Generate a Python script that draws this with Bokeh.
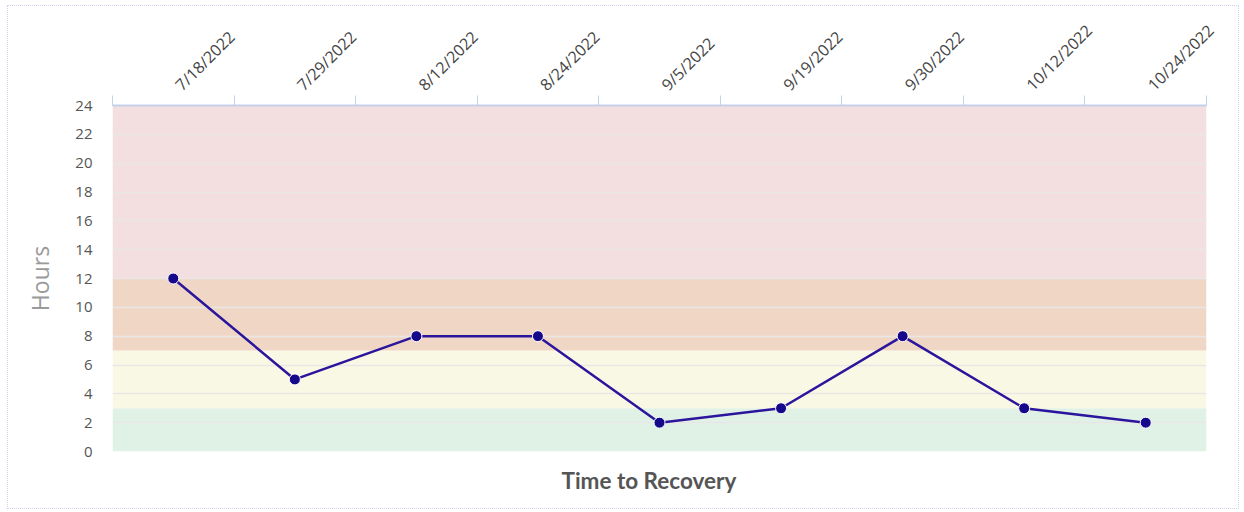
import math
from bokeh.plotting import figure
from bokeh.models import Range1d, FixedTicker, Title, ColumnDataSource
from bokeh.embed import file_html
from bokeh.resources import INLINE

dates = ["7/18/2022", "7/29/2022", "8/12/2022", "8/24/2022", "9/5/2022",
         "9/19/2022", "9/30/2022", "10/12/2022", "10/24/2022"]
hours = [12, 5, 8, 8, 2, 3, 8, 3, 2]

band_bottoms = [0, 3, 7, 12]
band_tops = [3, 7, 12, 24]
band_colors = ["#e0f1e6", "#f9f8e5", "#f0d7c5", "#f3dfdf"]

xs = [i + 0.5 for i in range(len(dates))]
label_shift = 0.04
label_pos = [x + label_shift for x in xs]

p = figure(width=1232, height=504, output_backend="svg", toolbar_location=None,
           x_range=Range1d(0, len(dates)), y_range=Range1d(0, 24),
           x_axis_location="above",
           min_border_left=104, min_border_right=34, min_border_top=99, min_border_bottom=59)
p.outline_line_color = None
p.styles = {"border": "1px dotted #cdd5ee", "margin-left": "7px", "margin-top": "5px"}

p.quad(left=0, right=len(dates), bottom=band_bottoms, top=band_tops,
       fill_color=band_colors, line_color=None, level="image")

src = ColumnDataSource(dict(x=xs, y=hours))
p.line("x", "y", source=src, line_color="#2a159c", line_width=2.5)
p.scatter("x", "y", source=src, size=11, fill_color="#16088a", line_color="white", line_width=1)

# x axis (top)
xa = p.xaxis[0]
xa.ticker = FixedTicker(ticks=label_pos, minor_ticks=list(range(len(dates) + 1)))
xa.major_label_overrides = {x: d for x, d in zip(label_pos, dates)}
xa.major_label_orientation = math.pi / 4
xa.major_tick_line_color = None
xa.major_tick_out = 0
xa.major_tick_in = 0
xa.minor_tick_line_color = "#c5d0ea"
xa.minor_tick_in = 0
xa.minor_tick_out = 10
xa.axis_line_color = "#c5d0ea"
xa.axis_line_width = 2
xa.major_label_text_font = "Open Sans"
xa.major_label_text_font_size = "16px"
xa.major_label_text_color = "#444444"
xa.major_label_standoff = 8

# y axis
ya = p.yaxis[0]
ya.ticker = FixedTicker(ticks=list(range(0, 25, 2)))
ya.axis_line_color = None
ya.major_tick_line_color = None
ya.major_tick_out = 0
ya.major_tick_in = 0
ya.minor_tick_line_color = None
ya.major_label_text_font = "Open Sans"
ya.major_label_text_font_size = "15px"
ya.major_label_text_color = "#555555"
ya.major_label_standoff = 20
ya.axis_label = "Hours"
ya.axis_label_text_font = "Open Sans"
ya.axis_label_text_font_style = "normal"
ya.axis_label_text_font_size = "23px"
ya.axis_label_text_color = "#9a9a9a"
ya.axis_label_standoff = 16

p.xgrid.grid_line_color = None
p.ygrid.grid_line_color = "#e9e6e6"
p.ygrid.grid_line_width = 1.5

p.add_layout(Title(text="Time to Recovery", align="left", text_font="Lato",
                   text_font_size="22.5px", text_font_style="bold",
                   text_color="#555555", offset=449, standoff=26), "below")

open("out.html", "w").write(file_html(p, INLINE))
